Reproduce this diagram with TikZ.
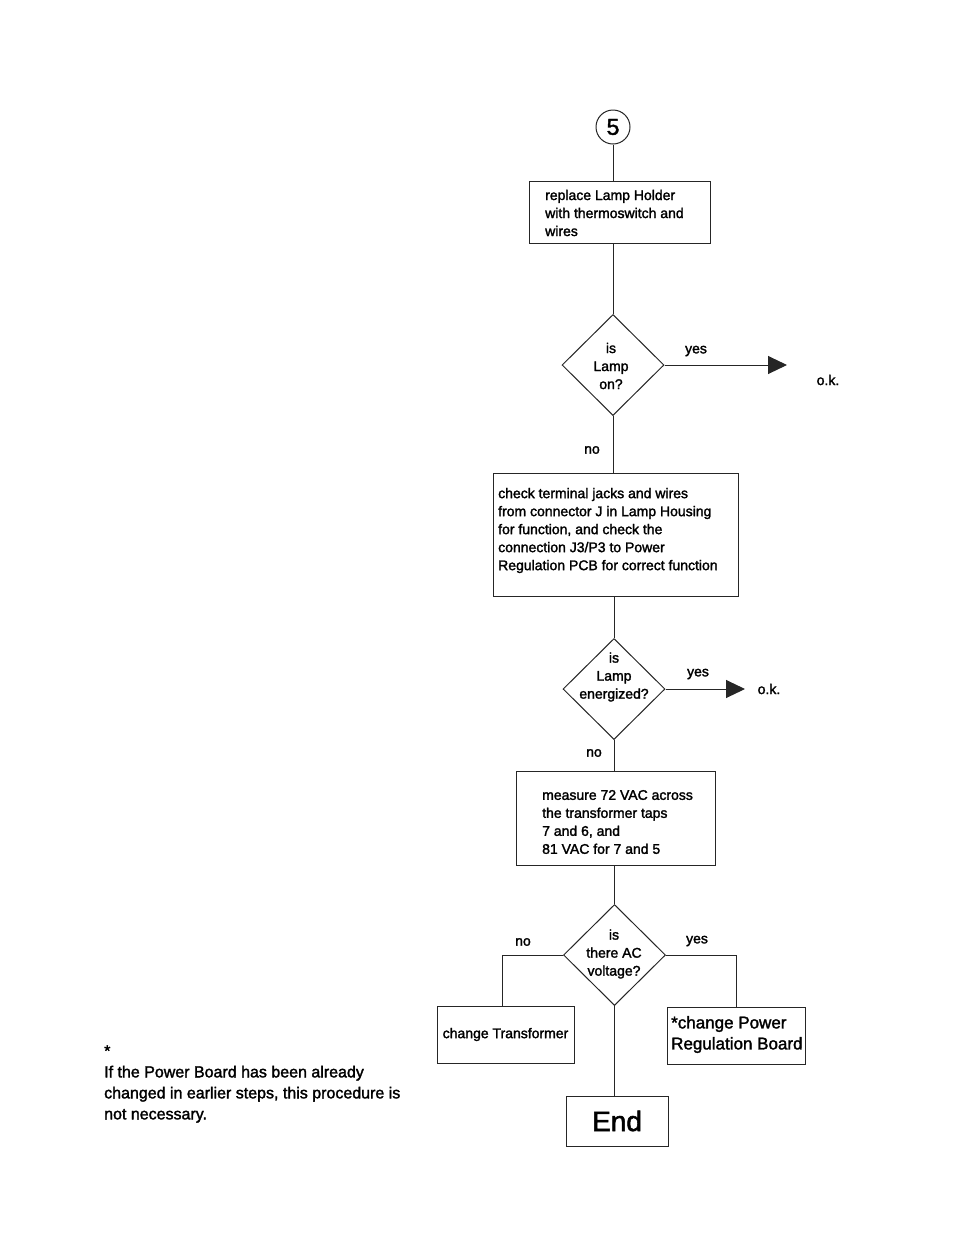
\documentclass[tikz,border=0pt]{standalone}
\usepackage{fontspec}
\setmainfont{Liberation Sans}[FakeBold=1.8]
\usetikzlibrary{shapes.geometric,arrows.meta}
\begin{document}
\begin{tikzpicture}[x=1pt,y=-1pt,
  line/.style={draw=black!85, line width=1pt},
  box/.style={draw=black!85, line width=1pt, inner sep=0pt},
  dia/.style={diamond, draw=black!85, line width=1pt, inner sep=0pt, minimum width=102pt, minimum height=101pt},
  txt/.style={inner sep=0pt, align=left, font=\fontsize{14}{18}\selectfont},
  ctxt/.style={inner sep=0pt, align=center, font=\fontsize{14}{18}\selectfont},
  lbl/.style={inner sep=0pt, font=\fontsize{14}{17}\selectfont},
  tip/.style={-{Triangle[length=19pt,width=18pt]}}
]
\fill[white] (0,0) rectangle (954,1235);
\useasboundingbox (0,0) rectangle (954,1235);

% start connector
\node[circle, draw=black!85, line width=1pt, minimum size=34pt, inner sep=0pt, font=\fontsize{23}{23}\selectfont] (c5) at (613,127) {5};

% box 1
\node[box, minimum width=181pt, minimum height=62pt] (b1) at (619.5,212) {};
\node[txt, anchor=west] (t1) at (545,213) {replace Lamp Holder\\with thermoswitch and\\wires};

% diamond 1
\node[dia] (d1) at (613,365) {};
\node[ctxt] (t d1) at (611,366) {is\\Lamp\\on?};
\coordinate (tip1) at (787,365);
\node[lbl] (yes1) at (696,351) {yes};
\node[lbl] (ok1) at (828,380) {o.k.};
\node[lbl] (no1) at (592,450) {no};

% box 2
\node[box, minimum width=245pt, minimum height=123pt] (b2) at (615.5,534.5) {};
\node[txt, anchor=west] (t2) at (498,530.5) {check terminal jacks and wires\\from connector J in Lamp Housing\\for function, and check the\\connection J3/P3 to Power\\Regulation PCB for correct function};

% diamond 2
\node[dia] (d2) at (614,689) {};
\node[ctxt] (t d2) at (614,677) {is\\Lamp\\energized?};
\coordinate (tip2) at (745,689);
\node[lbl] (yes2) at (698,674) {yes};
\node[lbl] (ok2) at (769,689) {o.k.};
\node[lbl] (no2) at (594,753) {no};

% box 3
\node[box, minimum width=199pt, minimum height=94pt] (b3) at (615.5,818) {};
\node[txt, anchor=west] (t3) at (542,822) {measure 72 VAC across\\the transformer taps\\7 and 6, and\\81 VAC for 7 and 5};

% diamond 3
\node[dia] (d3) at (614.5,955) {};
\node[ctxt] (t d3) at (614,954) {is\\there AC\\voltage?};
\node[lbl] (no3) at (523,942) {no};
\node[lbl] (yes3) at (697,941) {yes};

% box 4 / box 5
\node[box, minimum width=137pt, minimum height=57pt, font=\fontsize{14}{18}\selectfont] (b4) at (505.5,1034.5) {change Transformer};
\node[box, minimum width=138pt, minimum height=57pt] (b5) at (736,1035.5) {};
\node[inner sep=0pt, align=left, font=\fontsize{17}{21}\selectfont, anchor=west] (t5) at (671,1034.5) {*change Power\\Regulation Board};

% end
\node[box, minimum width=102pt, minimum height=50pt, font=\fontsize{28}{28}\selectfont] (end) at (617,1121) {End};

% footnote
\node[inner sep=0pt, align=left, font=\fontsize{16}{21}\selectfont, anchor=west] (fn) at (104,1084) {*\\If the Power Board has been already\\changed in earlier steps, this procedure is\\not necessary.};

% connectors
\draw[line] (c5.south) -- (c5.south |- b1.north);
\draw[line] (d1.north |- b1.south) -- (d1.north);
\draw[line, tip] (d1.east) -- (tip1);
\draw[line] (d1.south) -- (d1.south |- b2.north);
\draw[line] (d2.north |- b2.south) -- (d2.north);
\draw[line, tip] (d2.east) -- (tip2);
\draw[line] (d2.south) -- (d2.south |- b3.north);
\draw[line] (d3.north |- b3.south) -- (d3.north);
\draw[line] (d3.west) -| ([xshift=-3pt]b4.north);
\draw[line] (d3.east) -| (b5.north);
\draw[line] (d3.south) -- (d3.south |- end.north);
\end{tikzpicture}
\end{document}
